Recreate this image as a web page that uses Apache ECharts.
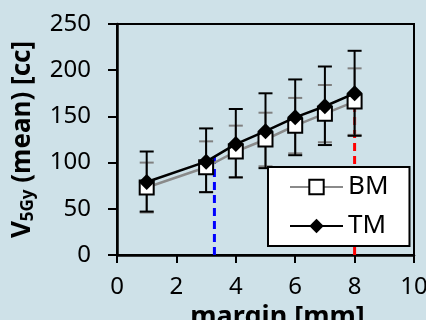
<!DOCTYPE html>
<html>
<head>
<meta charset="utf-8">
<script src="https://cdn.jsdelivr.net/npm/echarts@6/dist/echarts.min.js"></script>
<style>
  html, body { margin: 0; padding: 0; background: #cee1e8; }
  #chart { width: 426px; height: 320px; }
</style>
</head>
<body>
<div id="chart"></div>
<script>
// margin values (mm)
const margins = [1, 3, 4, 5, 6, 7, 8];

// BM: mean and error bar ends
const bmMean = [73, 95, 112, 125, 140, 153, 166];
const bmLow = [46, 68, 84, 96, 110, 122, 130];
const bmHigh = [100, 123, 140, 154, 170, 184, 202];

// TM: mean and error bar ends
const tmMean = [79, 101, 120, 134, 149, 161, 175];
const tmLow = [47, 68, 84, 94, 108, 119, 129];
const tmHigh = [112, 137, 158, 175, 190, 204, 221];

// dashed guide lines
const blueGuide = [[3.28, 0], [3.28, 106]];
const redGuide = [[8, 0], [8, 175]];

const yTicks = [0, 50, 100, 150, 200, 250];
const xTicks = [0, 2, 4, 6, 8, 10];

const font = 'Noto Sans';

const chart = echarts.init(document.getElementById('chart'));

// 误差棒
const errorBars = (low, high, color, z) => ({
  type: 'custom',
  silent: true,
  z: z,
  encode: { x: 0, y: [1, 2] },
  data: margins.map((m, i) => [m, low[i], high[i]]),
  renderItem: (params, api) => {
    const lo = api.coord([api.value(0), api.value(1)]);
    const hi = api.coord([api.value(0), api.value(2)]);
    const w = 7;
    const style = { stroke: color, lineWidth: 2 };
    return {
      type: 'group',
      children: [
        { type: 'line', shape: { x1: lo[0], y1: lo[1], x2: hi[0], y2: hi[1] }, style: style },
        { type: 'line', shape: { x1: lo[0] - w, y1: lo[1], x2: lo[0] + w, y2: lo[1] }, style: style },
        { type: 'line', shape: { x1: hi[0] - w, y1: hi[1], x2: hi[0] + w, y2: hi[1] }, style: style },
      ],
    };
  },
});

const option = {
  backgroundColor: '#cee1e8',
  animation: false,
  grid: {
    left: 117,
    right: 12,
    top: 24,
    bottom: 65,
    outerBoundsMode: 'none',
    containLabel: false,
    show: true,
    borderColor: '#000',
    borderWidth: 2,
    backgroundColor: 'transparent',
  },
  legend: {
    data: ['BM', 'TM'],
    orient: 'vertical',
    left: 268,
    top: 167,
    backgroundColor: '#ffffff',
    borderColor: '#000',
    borderWidth: 2,
    borderRadius: 0,
    padding: [7, 21, 7, 21],
    itemGap: 13,
    itemWidth: 53,
    itemHeight: 18,
    textStyle: { fontFamily: font, fontSize: 26, color: '#000' },
  },
  xAxis: {
    type: 'value',
    min: 0,
    max: 10,
    interval: 2,
    name: 'margin [mm]',
    nameLocation: 'middle',
    nameGap: 32,
    nameTextStyle: { fontFamily: font, fontSize: 27, fontWeight: 'bold', color: '#000', padding: [0, 0, 0, 24] },
    axisLine: { onZero: false, lineStyle: { color: '#000', width: 2.5 } },
    axisTick: { inside: false, length: 8, lineStyle: { color: '#000', width: 2 } },
    axisLabel: {
      margin: 20,
      fontFamily: font,
      fontSize: 24,
      color: '#000',
      formatter: (v) => (xTicks.includes(v) ? String(v) : ''),
    },
    splitLine: { show: false },
  },
  yAxis: {
    type: 'value',
    min: 0,
    max: 250,
    interval: 50,
    name: '{b|V}{s|5Gy}{b| (mean) [cc]}',
    nameLocation: 'middle',
    nameGap: 80,
    nameTextStyle: {
      rich: {
        b: { fontFamily: font, fontSize: 26, fontWeight: 'bold', color: '#000' },
        s: { fontFamily: font, fontSize: 17, fontWeight: 'bold', color: '#000', padding: [12, 0, 0, 0] },
      },
    },
    axisLine: { lineStyle: { color: '#000', width: 2.5 } },
    axisTick: { inside: false, length: 9, lineStyle: { color: '#000', width: 2 } },
    axisLabel: {
      margin: 26,
      fontFamily: font,
      fontSize: 24,
      color: '#000',
      formatter: (v) => (yTicks.includes(v) ? String(v) : ''),
    },
    splitLine: { show: false },
  },
  series: [
    {
      name: 'blue',
      type: 'line',
      data: blueGuide,
      symbol: 'none',
      silent: true,
      z: 1,
      lineStyle: { color: '#0000ff', width: 3, type: [8, 5] },
    },
    {
      name: 'red',
      type: 'line',
      data: redGuide,
      symbol: 'none',
      silent: true,
      z: 1,
      lineStyle: { color: '#ff0000', width: 3, type: [8, 5] },
    },
    errorBars(bmLow, bmHigh, '#808080', 2),
    errorBars(tmLow, tmHigh, '#000000', 3),
    {
      name: 'BM',
      type: 'line',
      data: margins.map((m, i) => [m, bmMean[i]]),
      z: 4,
      symbol: 'rect',
      symbolSize: 14,
      lineStyle: { color: '#8a8a8a', width: 2.5 },
      itemStyle: { color: '#ffffff', borderColor: '#000', borderWidth: 2 },
    },
    {
      name: 'TM',
      type: 'line',
      data: margins.map((m, i) => [m, tmMean[i]]),
      z: 5,
      symbol: 'diamond',
      symbolSize: [16, 16],
      lineStyle: { color: '#000', width: 2.5 },
      itemStyle: { color: '#000', borderColor: '#000', borderWidth: 0 },
    },
  ],
};

chart.setOption(option);
</script>
</body>
</html>
